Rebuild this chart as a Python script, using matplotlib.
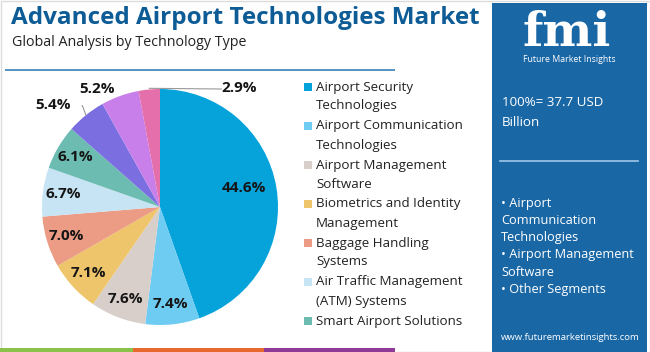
import matplotlib
matplotlib.use("Agg")
import matplotlib.pyplot as plt
import numpy as np
from matplotlib.patches import Rectangle

# ---- data ----
segments = ["Airport Security Technologies", "Airport Communication Technologies",
            "Airport Management Software", "Biometrics and Identity Management",
            "Baggage Handling Systems", "Air Traffic Management (ATM) Systems",
            "Smart Airport Solutions", "Other A", "Other B", "Other C"]
shares = [44.6, 7.4, 7.6, 7.1, 7.0, 6.7, 6.1, 5.4, 5.2, 2.9]
colors = ["#06a3db", "#6ecbf1", "#d8cfcb", "#eec56a", "#ec9c85", "#c6e4f4",
          "#6cbcb1", "#7b6ee0", "#c87fe9", "#e46fab"]
legend_labels = ["Airport Security\nTechnologies", "Airport Communication\nTechnologies",
                 "Airport Management\nSoftware", "Biometrics and Identity\nManagement",
                 "Baggage Handling\nSystems", "Air Traffic Management\n(ATM) Systems",
                 "Smart Airport Solutions"]
title = "Advanced Airport Technologies Market"
subtitle = "Global Analysis by Technology Type"
panel_total = "100%= 37.7 USD\nBillion"
panel_bullets = ["\u2022 Airport", "Communication", "Technologies",
                 "\u2022 Airport Management", "Software", "\u2022 Other Segments"]

W, H = 650, 352
fig = plt.figure(figsize=(W / 100, H / 100), dpi=100)
fig.patch.set_facecolor("white")
FONT = "Open Sans"

def fx(x): return x / W
def fy(y): return 1 - y / H

bg = fig.add_axes([0, 0, 1, 1])
bg.set_xlim(0, W); bg.set_ylim(H, 0); bg.axis("off")
bg.add_patch(Rectangle((0.5, 0.5), W - 1, H - 1, fill=False, ec="#dcdcdc", lw=1))
# header line
bg.plot([5, 395], [70, 70], color="#5590c0", lw=1.4, solid_capstyle="butt")
# bottom colour strip
bg.add_patch(Rectangle((0, 348), 133, 4, color="#8bc34a", lw=0))
bg.add_patch(Rectangle((133, 348), 131, 4, color="#e8692f", lw=0))
bg.add_patch(Rectangle((264, 348), 131, 4, color="#8e3a96", lw=0))
# right panel
PANEL = "#1a67a6"
bg.add_patch(Rectangle((492, 3), 155, 349, color=PANEL, lw=0))

# logo
bg.text(567, 46, "fmi", family="DejaVu Serif", weight="bold", fontsize=34,
        color="white", ha="center", va="baseline")
for yy in np.arange(17, 48, 3.2):
    bg.plot([515, 620], [yy, yy], color=PANEL, lw=0.8)
bg.text(569, 60, "Future Market Insights", family=FONT, fontsize=6.3,
        color="white", ha="center", va="center")

# titles
bg.text(11, 18, title, family=FONT, weight="bold", fontsize=17.5,
        color="#0e5c96", ha="left", va="center")
bg.text(12, 42, subtitle, family=FONT, fontsize=10.3, color="#222222",
        ha="left", va="center")

# legend
ly = 87
for lab, col in zip(legend_labels, colors):
    lines = lab.split("\n")
    bg.add_patch(Rectangle((304, ly - 4), 8, 8, color=col, lw=0))
    for i, ln in enumerate(lines):
        bg.text(316, ly + i * 19, ln, family=FONT, fontsize=9.6,
                color="#222222", ha="left", va="center")
    ly += 19 * len(lines) + 1

# panel texts
for i, ln in enumerate(panel_total.split("\n")):
    bg.text(502, 102 + i * 20, ln, family=FONT, fontsize=9.6, color="white",
            ha="left", va="center")
bg.plot([500, 638], [161, 161], color="#9fc6e8", lw=1.2)
for i, ln in enumerate(panel_bullets):
    bg.text(501, 203 + i * 17.3, ln, family=FONT, fontsize=9.2, color="white",
            ha="left", va="center")
bg.text(570, 337, "www.futuremarketinsights.com", family=FONT, fontsize=6.8,
        color="white", ha="center", va="center")

# pie
cx, cy, r = 160, 207, 118
ax = fig.add_axes([fx(cx - r), fy(cy + r), 2 * r / W, 2 * r / H])
ax.pie(shares, colors=colors, startangle=90, counterclock=False, radius=1,
       wedgeprops=dict(linewidth=0))
ax.set_xlim(-1, 1); ax.set_ylim(-1, 1); ax.set_aspect("auto"); ax.axis("off")

cum = np.cumsum([0] + shares[:-1])
mids = 90 - (cum + np.array(shares) / 2) * 3.6
for i, (s, m) in enumerate(zip(shares, mids)):
    a = np.deg2rad(m)
    lab = f"{s:.1f}%"
    kw = dict(family=FONT, weight="bold", fontsize=11, color="#151515",
              ha="center", va="center")
    if i == 0:
        ax.text(0.73 * np.cos(np.deg2rad(13)), 0.73 * np.sin(np.deg2rad(13)), lab, **kw)
    elif i < 7:
        ax.text(0.83 * np.cos(a), 0.83 * np.sin(a), lab, **kw)
    elif i == 7:
        ex, ey = np.cos(a), np.sin(a)
        ax.plot([ex, ex - 0.03, -0.66], [ey, ey + 0.08, ey + 0.08], color="#999999",
                lw=0.8, clip_on=False)
        ax.text(-0.91, ey + 0.09, lab, clip_on=False, **kw)
    elif i == 8:
        ax.text(-0.53, 1.0, lab, clip_on=False, **kw)
    else:
        ex, ey = np.cos(a), np.sin(a)
        ax.plot([ex, 0.52], [ey + 0.01, 1.0], color="#999999", lw=0.8, clip_on=False)
        ax.text(0.67, 1.01, lab, clip_on=False, **kw)

fig.savefig("out.png", dpi=100, facecolor="white")
